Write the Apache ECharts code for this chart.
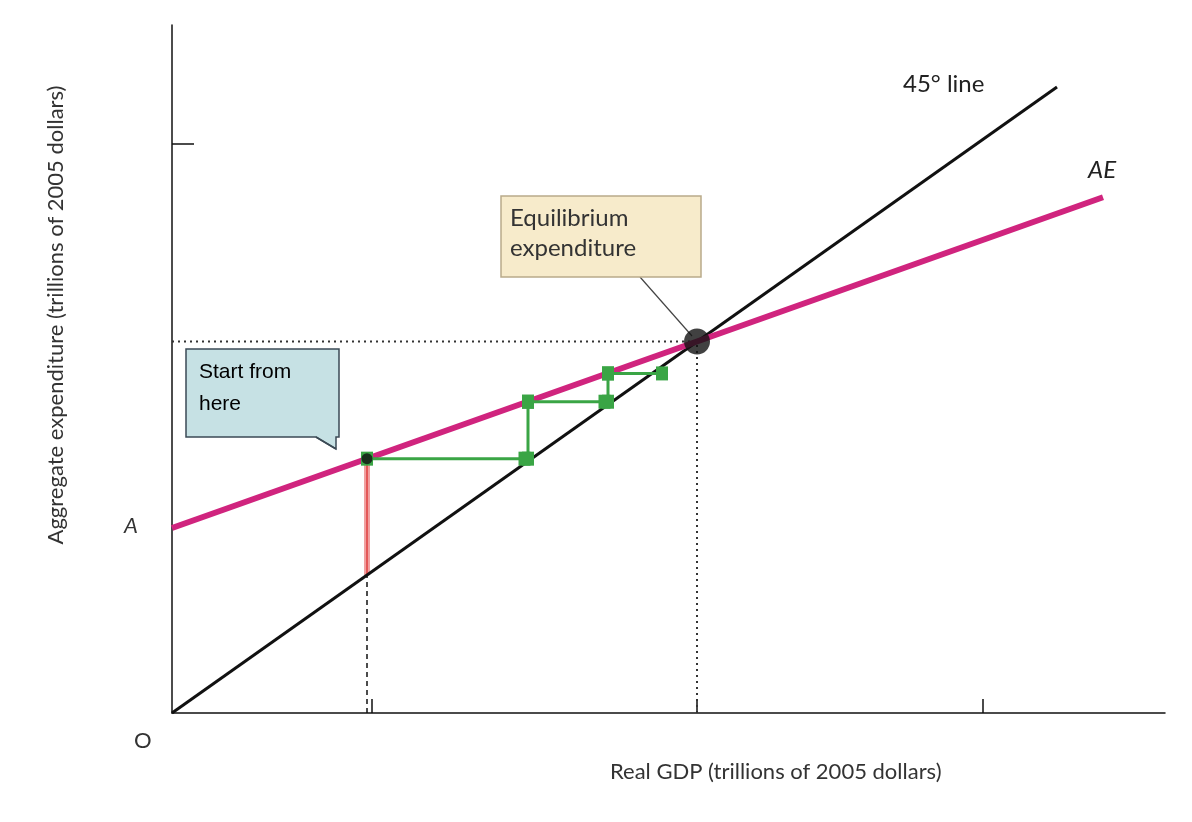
<!DOCTYPE html>
<html><head><meta charset="utf-8">
<script src="https://cdn.jsdelivr.net/npm/echarts@6/dist/echarts.min.js"></script>
<style>html,body{margin:0;background:#fff}#c{width:1192px;height:822px}</style>
</head><body><div id="c"></div>
<script>
const line45 = [[0,0],[17.7,17.7]];
const aeLine = [[0,5.23],[18.62,14.58]];
const equilibrium = [10.5,10.5];
const startPoint = [3.9,7.19];
const redGap = [[3.9,3.9],[3.9,7.19]];
const dashedDrop = [[3.9,0],[3.9,3.9]];
const arrowSteps = [[[3.9,7.19],[7.05,7.19]],[[7.12,7.19],[7.12,8.8]],[[7.12,8.8],[8.65,8.8]],[[8.72,8.8],[8.72,9.6]],[[8.72,9.6],[9.8,9.6]]];
const xTicks = [4,10.5,16.22];
const yTicks = [16.1];

const chart = echarts.init(document.getElementById('c'));
const font = 'Lato, "Open Sans", sans-serif';
const series = [
 {type:'line',data:line45,symbol:'none',lineStyle:{color:'#111',width:3},z:3},
 {type:'line',data:aeLine,symbol:'none',lineStyle:{color:'#d0247e',width:6},z:4},
 {type:'line',data:redGap,symbol:'none',lineStyle:{color:'#f0a0a0',width:6},z:2},
 {type:'line',data:redGap,symbol:'none',lineStyle:{color:'#e04040',width:1.5},z:2},
 {type:'line',data:dashedDrop,symbol:'none',lineStyle:{color:'#111',width:1.5,type:[5,4]},z:2},
 {type:'line',data:[[0,equilibrium[1]],equilibrium],symbol:'none',lineStyle:{color:'#333',width:2,type:[2,4]},z:2},
 {type:'line',data:[[equilibrium[0],0],equilibrium],symbol:'none',lineStyle:{color:'#333',width:2,type:[2,4]},z:2},
 {type:'scatter',data:[equilibrium],symbolSize:26,itemStyle:{color:'#111'},z:6},
 {type:'scatter',data:[startPoint],symbolSize:11,itemStyle:{color:'#111'},z:6}
];
arrowSteps.forEach(s=>series.push({type:'line',data:s,symbol:['none','arrow'],symbolSize:[12,14],symbolKeepAspect:false,lineStyle:{color:'#3aa545',width:3},itemStyle:{color:'#3aa545'},z:5}));
chart.setOption({
 animation:false,
 grid:{left:172,top:25,right:27,bottom:109},
 xAxis:{type:'value',min:0,max:19.86,axisLine:{lineStyle:{color:'#111',width:1.5}},splitLine:{show:false},
   axisTick:{show:true,inside:true,length:14,customValues:xTicks,lineStyle:{color:'#111',width:1.5}},axisLabel:{show:false}},
 yAxis:{type:'value',min:0,max:19.45,axisLine:{lineStyle:{color:'#111',width:1.5}},splitLine:{show:false},
   axisTick:{show:true,inside:true,length:22,customValues:yTicks,lineStyle:{color:'#111',width:1.5}},axisLabel:{show:false}},
 series:series,
 graphic:[
  {type:'text',left:134,top:730,style:{text:'O',font:'22px '+font,fill:'#333'}},
  {type:'text',left:124,top:515,style:{text:'A',font:'italic 22px '+font,fill:'#333'}},
  {type:'text',left:903,top:72,style:{text:'45° line',font:'24px '+font,fill:'#222'}},
  {type:'text',left:1088,top:158,style:{text:'AE',font:'italic 24px '+font,fill:'#222'}},
  {type:'text',left:610,top:761,style:{text:'Real GDP (trillions of 2005 dollars)',font:'22px '+font,fill:'#333'}},
  {type:'text',x:56,y:315,rotation:Math.PI/2,style:{text:'Aggregate expenditure (trillions of 2005 dollars)',font:'22px '+font,fill:'#333',align:'center',verticalAlign:'middle'}},
  {type:'line',shape:{x1:640,y1:277,x2:692,y2:336},style:{stroke:'#444',lineWidth:1.2}},
  {type:'rect',shape:{x:501,y:196,width:200,height:81},style:{fill:'#f7ebcb',stroke:'#b9ab8a',lineWidth:1.5},z:10},
  {type:'text',left:510,top:203,style:{text:'Equilibrium\nexpenditure',font:'24px '+font,fill:'#333',lineHeight:30},z:11},
  {type:'polygon',shape:{points:[[186,349],[339,349],[339,437],[336,437],[336,449],[316,437],[186,437]]},style:{fill:'#c6e1e4',stroke:'#3b4a55',lineWidth:1.5},z:10},
  {type:'polyline',shape:{points:[[316,437],[336,449]]},style:{stroke:'#3b4a55',lineWidth:1.5},z:11},
  {type:'text',left:199,top:356,style:{text:'Start from\nhere',font:'21px Arial, "Liberation Sans", sans-serif',fill:'#000',lineHeight:32},z:11}
 ]
});
</script></body></html>
